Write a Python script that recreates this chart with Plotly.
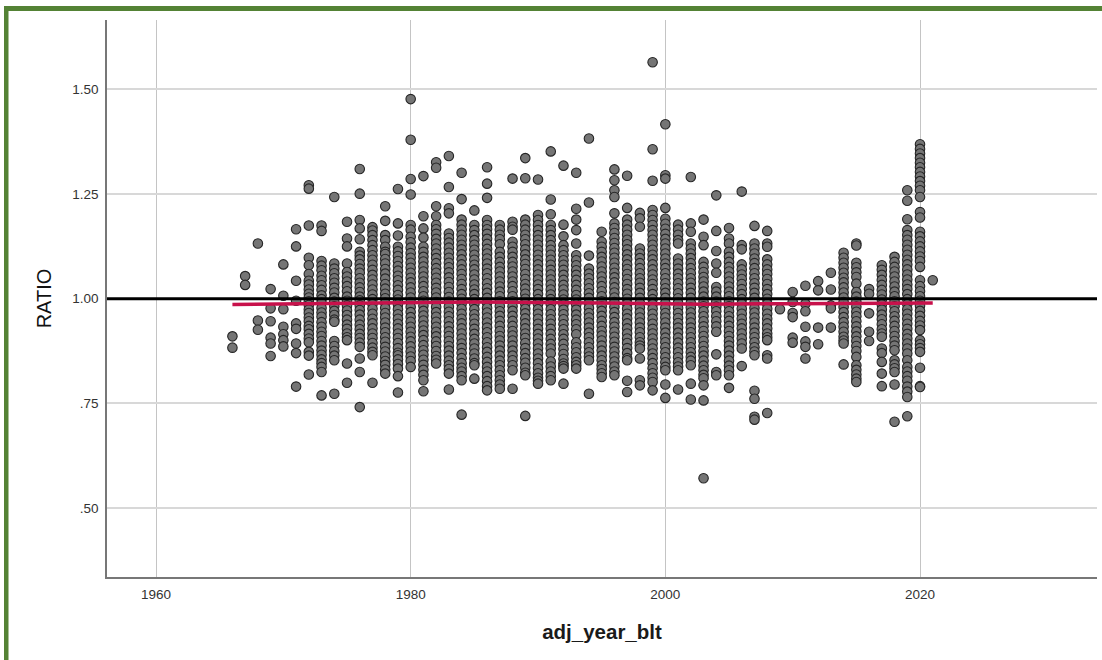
import plotly.graph_objects as go

x_ticks = [1960, 1980, 2000, 2020]
y_ticks = [0.5, 0.75, 1.0, 1.25, 1.5]
y_labels = [".50", ".75", "1.00", "1.25", "1.50"]

fit_years = [1966, 1975, 1985, 1995, 2003, 2010, 2021]
fit_values = [.986, .989, .992, .990, .987, .988, .990]

r1966 = [.91,.883]
r1967 = [1.054,1.033]
r1968 = [1.132,.948,.926]
r1969 = [1.023,.977,.946,.907,.893,.863]
r1970 = [1.082,1.007,.975,.933,.915,.901,.886]
r1971 = [1.166,1.125,1.043,.995,.941,.928,.893,.87,.79]
r1972 = [1.271,1.263,1.175,1.098,1.08,1.059,1.043,1.034,1.022,1.012,1.003,.994,.985,.974,.966,.955,.946,.935,.927,.916,.905,.896,.873,.864,.819]
r1973 = [1.175,1.162,1.09,1.079,1.068,1.055,1.044,1.032,1.021,1.008,.999,.99,.978,.967,.957,.944,.933,.921,.911,.899,.888,.876,.866,.855,.846,.837,.825,.769]
r1974 = [1.243,1.084,1.072,1.061,1.049,1.038,1.026,1.015,1.002,.993,.982,.971,.961,.95,.945,.899,.887,.875,.864,.853,.773]
r1975 = [1.184,1.144,1.125,1.084,1.064,1.053,1.041,1.03,1.018,1.005,.995,.984,.972,.961,.95,.938,.928,.917,.908,.901,.845,.799]
r1976 = [1.31,1.251,1.188,1.168,1.142,1.112,1.103,1.094,1.083,1.072,1.062,1.049,1.038,1.027,1.016,1.005,.996,.984,.973,.962,.95,.938,.927,.916,.906,.895,.885,.857,.825,.741]
r1977 = [1.171,1.163,1.152,1.14,1.128,1.116,1.104,1.093,1.081,1.069,1.057,1.046,1.034,1.022,1.01,.999,.987,.976,.964,.952,.941,.929,.917,.906,.894,.883,.873,.865,.799]
r1978 = [1.221,1.186,1.152,1.14,1.124,1.112,1.107,1.095,1.084,1.071,1.06,1.048,1.035,1.024,1.012,1.001,.99,.978,.966,.955,.943,.931,.92,.908,.897,.885,.874,.862,.851,.842,.831,.821]
r1979 = [1.262,1.18,1.151,1.124,1.113,1.102,1.09,1.078,1.067,1.055,1.044,1.032,1.021,1.009,.998,.986,.975,.963,.952,.94,.929,.917,.906,.894,.882,.871,.865,.855,.844,.833,.815,.776]
r1980 = [1.477,1.38,1.286,1.249,1.176,1.165,1.148,1.135,1.122,1.109,1.098,1.086,1.074,1.062,1.05,1.039,1.027,1.015,1.003,.992,.98,.968,.956,.945,.933,.921,.909,.898,.886,.874,.862,.851,.837]
r1981 = [1.293,1.197,1.168,1.146,1.124,1.112,1.1,1.089,1.077,1.065,1.053,1.041,1.03,1.018,1.006,.995,.983,.971,.96,.948,.936,.924,.913,.901,.889,.877,.866,.854,.842,.83,.818,.805,.779]
r1982 = [1.326,1.313,1.221,1.197,1.176,1.166,1.155,1.143,1.132,1.12,1.108,1.097,1.085,1.073,1.062,1.05,1.038,1.026,1.015,1.003,.992,.98,.968,.957,.945,.933,.921,.91,.898,.887,.875,.863,.854,.845]
r1983 = [1.341,1.267,1.216,1.204,1.156,1.145,1.134,1.122,1.11,1.098,1.086,1.075,1.063,1.051,1.04,1.028,1.016,1.004,.993,.981,.969,.958,.946,.934,.922,.911,.899,.887,.876,.864,.852,.841,.832,.821,.783]
r1984 = [1.301,1.238,1.189,1.177,1.165,1.153,1.141,1.129,1.118,1.106,1.094,1.082,1.07,1.059,1.047,1.035,1.023,1.011,1.0,.988,.976,.964,.952,.941,.929,.917,.905,.893,.882,.87,.858,.846,.835,.826,.815,.805,.723]
r1985 = [1.211,1.176,1.164,1.152,1.14,1.129,1.117,1.105,1.093,1.081,1.07,1.058,1.046,1.034,1.022,1.011,.999,.987,.975,.963,.952,.94,.928,.916,.904,.893,.881,.869,.857,.846,.841,.809]
r1986 = [1.314,1.275,1.241,1.188,1.176,1.166,1.155,1.143,1.131,1.119,1.108,1.096,1.084,1.072,1.061,1.049,1.037,1.025,1.014,1.002,.99,.978,.967,.955,.943,.931,.92,.908,.896,.884,.873,.861,.849,.837,.826,.815,.803,.791,.781]
r1987 = [1.176,1.165,1.153,1.142,1.13,1.112,1.1,1.088,1.076,1.065,1.053,1.041,1.029,1.017,1.006,.994,.982,.97,.959,.947,.935,.923,.911,.9,.888,.876,.864,.852,.841,.829,.817,.805,.795,.785]
r1988 = [1.287,1.184,1.172,1.165,1.136,1.124,1.112,1.1,1.088,1.077,1.065,1.053,1.041,1.03,1.018,1.006,.994,.982,.971,.959,.947,.935,.923,.912,.9,.888,.876,.864,.853,.841,.829,.785]
r1989 = [1.336,1.288,1.189,1.177,1.165,1.153,1.142,1.13,1.118,1.106,1.094,1.083,1.071,1.059,1.047,1.035,1.024,1.012,1.0,.988,.976,.965,.953,.941,.929,.917,.906,.894,.882,.87,.858,.847,.835,.823,.817,.72]
r1990 = [1.285,1.2,1.188,1.176,1.164,1.152,1.141,1.129,1.117,1.105,1.093,1.082,1.07,1.058,1.046,1.034,1.023,1.011,.999,.987,.975,.964,.952,.94,.928,.916,.905,.893,.881,.869,.857,.846,.834,.822,.811,.804,.797]
r1991 = [1.352,1.237,1.202,1.176,1.164,1.152,1.14,1.128,1.117,1.105,1.093,1.081,1.069,1.058,1.046,1.034,1.022,1.01,.999,.987,.975,.963,.951,.94,.928,.916,.904,.892,.881,.869,.85,.838,.826,.815,.805]
r1992 = [1.318,1.177,1.149,1.128,1.116,1.104,1.092,1.081,1.069,1.057,1.045,1.033,1.022,1.01,.998,.986,.974,.963,.951,.939,.927,.915,.904,.892,.88,.868,.856,.845,.839,.833,.797]
r1993 = [1.301,1.215,1.189,1.164,1.132,1.104,1.092,1.08,1.068,1.057,1.045,1.033,1.021,1.009,.998,.986,.974,.962,.95,.939,.927,.915,.896,.884,.872,.86,.849,.841,.833]
r1994 = [1.383,1.23,1.103,1.072,1.06,1.049,1.037,1.025,1.013,1.002,.99,.978,.966,.955,.943,.931,.919,.908,.896,.884,.872,.862,.853,.773]
r1995 = [1.16,1.136,1.124,1.112,1.1,1.089,1.077,1.065,1.053,1.041,1.03,1.018,1.006,.994,.982,.971,.959,.947,.935,.923,.912,.9,.888,.876,.864,.853,.841,.832,.822,.813]
r1996 = [1.309,1.283,1.259,1.243,1.204,1.18,1.169,1.157,1.145,1.133,1.121,1.11,1.098,1.086,1.074,1.062,1.051,1.039,1.027,1.015,1.003,.992,.98,.968,.956,.944,.933,.921,.909,.897,.885,.874,.862,.85,.838,.826,.817]
r1997 = [1.294,1.217,1.189,1.177,1.165,1.153,1.141,1.13,1.118,1.106,1.094,1.082,1.071,1.059,1.047,1.035,1.023,1.012,1.0,.988,.976,.964,.953,.941,.929,.917,.905,.894,.882,.87,.858,.853,.804,.777]
r1998 = [1.205,1.192,1.172,1.12,1.108,1.097,1.085,1.073,1.061,1.049,1.038,1.026,1.014,1.002,.99,.979,.967,.955,.943,.931,.92,.908,.896,.888,.881,.857,.805,.793]
r1999 = [1.565,1.357,1.282,1.212,1.2,1.188,1.176,1.164,1.153,1.141,1.129,1.117,1.105,1.094,1.082,1.07,1.058,1.046,1.035,1.023,1.011,.999,.987,.976,.964,.952,.94,.928,.917,.905,.893,.881,.869,.858,.846,.834,.822,.811,.801,.781]
r2000 = [1.417,1.295,1.287,1.217,1.191,1.179,1.167,1.155,1.143,1.132,1.12,1.108,1.096,1.084,1.073,1.061,1.049,1.037,1.025,1.014,1.002,.99,.978,.966,.955,.943,.931,.919,.907,.896,.884,.872,.86,.848,.837,.829,.795,.763]
r2001 = [1.177,1.165,1.153,1.14,1.132,1.096,1.084,1.072,1.06,1.049,1.037,1.025,1.013,1.001,.99,.978,.966,.954,.942,.931,.919,.907,.895,.883,.872,.86,.848,.838,.829,.783]
r2002 = [1.291,1.18,1.16,1.132,1.12,1.108,1.097,1.085,1.073,1.061,1.049,1.038,1.026,1.014,1.002,.99,.979,.967,.955,.943,.931,.92,.908,.896,.884,.872,.861,.852,.841,.797,.759]
r2003 = [.571,1.189,1.148,1.128,1.088,1.076,1.064,1.052,1.041,1.029,1.017,1.005,.993,.982,.97,.958,.946,.934,.923,.911,.899,.887,.875,.864,.852,.84,.829,.818,.81,.793,.757]
r2004 = [1.247,1.162,1.114,1.084,1.062,1.028,1.017,1.005,.993,.981,.97,.958,.946,.934,.921,.867,.825,.817]
r2005 = [1.169,1.144,1.132,1.112,1.1,1.088,1.076,1.065,1.053,1.041,1.029,1.017,1.006,.994,.982,.97,.958,.947,.935,.923,.911,.899,.888,.876,.864,.852,.84,.829,.817,.787]
r2006 = [1.256,1.128,1.118,1.082,1.07,1.058,1.047,1.035,1.023,1.011,.999,.988,.976,.964,.952,.94,.929,.917,.905,.893,.881,.839]
r2007 = [1.174,1.132,1.12,1.108,1.096,1.085,1.073,1.061,1.049,1.037,1.026,1.014,1.002,.99,.978,.967,.955,.943,.931,.919,.908,.896,.884,.874,.865,.78,.761,.718,.711]
r2008 = [1.162,1.132,1.124,1.094,1.082,1.07,1.059,1.047,1.035,1.023,1.011,1.0,.988,.976,.964,.952,.941,.929,.917,.908,.901,.865,.857,.727]
r2009 = [.975]
r2010 = [1.016,.992,.966,.956,.907,.895]
r2011 = [1.031,.988,.97,.933,.898,.885,.857]
r2012 = [1.042,1.02,.931,.891]
r2013 = [1.062,1.022,.984,.977,.931]
r2014 = [1.11,1.098,1.086,1.074,1.062,1.05,1.039,1.027,1.015,1.003,.992,.98,.968,.956,.944,.933,.921,.909,.9,.893,.843]
r2015 = [1.132,1.127,1.086,1.075,1.063,1.052,1.036,1.016,1.005,.993,.981,.969,.958,.946,.934,.922,.91,.899,.887,.875,.861,.841,.83,.819,.809,.801]
r2016 = [1.023,1.012,.965,.921,.899]
r2017 = [1.08,1.069,1.057,1.045,1.033,1.021,1.01,.998,.986,.974,.962,.951,.939,.927,.917,.909,.881,.87,.849,.821,.791]
r2018 = [1.1,1.088,1.076,1.065,1.053,1.041,1.029,1.017,1.006,.994,.982,.97,.958,.947,.935,.923,.911,.899,.888,.877,.853,.843,.834,.825,.795,.706]
r2019 = [1.259,1.234,1.19,1.164,1.152,1.141,1.129,1.117,1.105,1.093,1.082,1.07,1.058,1.046,1.034,1.023,1.011,.999,.987,.975,.964,.952,.94,.928,.916,.905,.893,.881,.869,.853,.837,.826,.815,.804,.79,.778,.765,.719]
r2020 = [1.369,1.358,1.347,1.336,1.325,1.314,1.303,1.292,1.281,1.27,1.259,1.243,1.207,1.194,1.16,1.149,1.137,1.125,1.113,1.101,1.09,1.076,1.044,1.03,1.018,1.006,.995,.983,.971,.959,.947,.936,.925,.901,.891,.882,.873,.835,.791,.789]
r2021 = [1.044]

series = [r1966,r1967,r1968,r1969,r1970,r1971,r1972,r1973,r1974,r1975,r1976,r1977,r1978,r1979,
          r1980,r1981,r1982,r1983,r1984,r1985,r1986,r1987,r1988,r1989,r1990,r1991,r1992,r1993,
          r1994,r1995,r1996,r1997,r1998,r1999,r2000,r2001,r2002,r2003,r2004,r2005,r2006,r2007,
          r2008,r2009,r2010,r2011,r2012,r2013,r2014,r2015,r2016,r2017,r2018,r2019,r2020,r2021]
first_year = 1966

xs, ys = [], []
for i, values in enumerate(series):
    for v in values:
        xs.append(first_year + i)
        ys.append(v)

X0, X1 = 1956.15, 2033.9
Y0, Y1 = 0.335, 1.666
FONT = "Liberation Sans, Arial, sans-serif"
PX_L, PX_R, PX_T, PX_B = 107, 1097, 20, 577

fig = go.Figure()
fig.add_trace(go.Scatter(x=xs, y=ys, mode="markers", showlegend=False, hoverinfo="skip",
                         marker=dict(size=9.5, color="#757575", line=dict(color="#262626", width=1.1))))
fig.add_trace(go.Scatter(x=[X0, X1], y=[1, 1], mode="lines", showlegend=False,
                         line=dict(color="#000000", width=3)))
fig.add_trace(go.Scatter(x=fit_years, y=fit_values, mode="lines", showlegend=False,
                         line=dict(color="#c8114b", width=3.5)))

w = PX_R - PX_L
h = PX_B - PX_T
def px(v): return (v - PX_L) / w
def py(v): return (PX_B - v) / h

fig.update_layout(
    width=1102, height=660,
    margin=dict(l=PX_L, r=1102 - PX_R, t=PX_T, b=660 - PX_B, pad=0, autoexpand=False),
    paper_bgcolor="white", plot_bgcolor="white",
    font=dict(family=FONT, color="#333333", size=13.5),
    xaxis=dict(range=[X0, X1], tickvals=x_ticks, ticktext=[str(t) for t in x_ticks],
               showgrid=True, gridcolor="#c4c4c4", gridwidth=1, zeroline=False,
               showline=True, linecolor="#777777", linewidth=1.5, ticks="outside", ticklen=4,
               tickcolor="rgba(0,0,0,0)", tickfont=dict(size=13.5, color="#333333"),
               title=dict(text="adj_year_blt", font=dict(size=20.5, color="#1a1a1a", weight="bold"), standoff=24)),
    yaxis=dict(range=[Y0, Y1], tickvals=y_ticks, ticktext=y_labels,
               showgrid=True, gridcolor="#d8d8d8", gridwidth=2, zeroline=False,
               showline=True, linecolor="#777777", linewidth=1.5, ticks="outside", ticklen=4,
               tickcolor="rgba(0,0,0,0)", tickfont=dict(size=13.5, color="#333333"),
               title=dict(text="RATIO", font=dict(size=20, color="#111111"), standoff=15)),
    shapes=[
        dict(type="rect", xref="paper", yref="paper", x0=px(4), x1=px(8.5), y0=py(660), y1=py(6),
             fillcolor="#548235", line=dict(width=0), layer="above"),
        dict(type="rect", xref="paper", yref="paper", x0=px(4), x1=px(1102), y0=py(11), y1=py(6),
             fillcolor="#548235", line=dict(width=0), layer="above"),
    ],
)

fig.write_html("out.html", config=dict(displayModeBar=False),
               post_script="document.body.style.margin='0';document.body.style.overflow='hidden';")
